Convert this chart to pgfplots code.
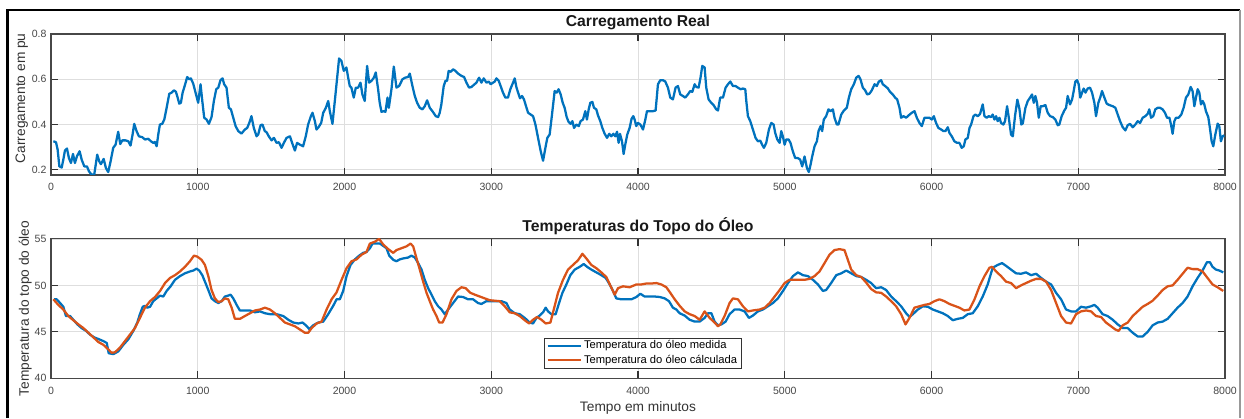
\documentclass[border=0pt]{standalone}
\usepackage{fontspec}
\setmainfont{Liberation Sans}
\usepackage{pgfplots}
\usepackage{pgfplotstable}
\pgfplotsset{compat=1.18}

\definecolor{mblue}{rgb}{0,0.447,0.741}
\definecolor{morange}{rgb}{0.85,0.325,0.098}

% Carregamento (pu) versus tempo (min)
\pgfplotstableread[row sep=\\]{
t v\\
16 0.326\\ 34 0.322\\ 45 0.29\\ 57 0.215\\ 73 0.21\\ 84 0.245\\ 95 0.285\\ 109 0.294\\ 122 0.252\\ 136 0.23\\
150 0.27\\ 163 0.23\\ 177 0.26\\ 195 0.282\\ 209 0.245\\ 227 0.215\\ 245 0.215\\ 259 0.193\\ 277 0.178\\ 295 0.18\\
315 0.267\\ 329 0.237\\ 340 0.225\\ 359 0.248\\ 374 0.208\\ 390 0.19\\ 406 0.237\\ 424 0.297\\ 440 0.311\\ 458 0.368\\
472 0.314\\ 486 0.33\\ 508 0.33\\ 527 0.326\\ 542 0.307\\ 556 0.356\\ 567 0.403\\ 583 0.371\\ 599 0.348\\ 622 0.344\\
640 0.334\\ 663 0.337\\ 681 0.326\\ 697 0.319\\ 708 0.323\\ 720 0.304\\ 731 0.356\\ 742 0.4\\ 758 0.403\\ 772 0.422\\
788 0.474\\ 806 0.536\\ 822 0.541\\ 838 0.551\\ 851 0.545\\ 863 0.519\\ 874 0.492\\ 885 0.496\\ 897 0.541\\ 913 0.575\\
928 0.61\\ 942 0.6\\ 953 0.604\\ 969 0.581\\ 985 0.541\\ 1003 0.496\\ 1019 0.578\\ 1031 0.504\\ 1044 0.43\\ 1060 0.422\\
1076 0.403\\ 1094 0.433\\ 1110 0.504\\ 1126 0.556\\ 1140 0.563\\ 1155 0.596\\ 1169 0.604\\ 1180 0.578\\ 1196 0.563\\ 1212 0.474\\
1226 0.467\\ 1242 0.43\\ 1258 0.393\\ 1276 0.371\\ 1298 0.36\\ 1321 0.378\\ 1337 0.385\\ 1351 0.407\\ 1366 0.437\\ 1382 0.385\\
1401 0.348\\ 1412 0.356\\ 1428 0.397\\ 1441 0.4\\ 1457 0.371\\ 1469 0.366\\ 1484 0.348\\ 1503 0.33\\ 1519 0.341\\ 1537 0.319\\
1553 0.322\\ 1571 0.297\\ 1587 0.319\\ 1605 0.341\\ 1628 0.348\\ 1643 0.319\\ 1662 0.285\\ 1677 0.319\\ 1696 0.311\\ 1718 0.304\\
1736 0.348\\ 1752 0.4\\ 1771 0.437\\ 1782 0.452\\ 1798 0.415\\ 1809 0.378\\ 1823 0.388\\ 1841 0.407\\ 1855 0.452\\ 1873 0.474\\
1889 0.504\\ 1900 0.459\\ 1918 0.403\\ 1934 0.504\\ 1950 0.607\\ 1963 0.692\\ 1979 0.681\\ 1995 0.637\\ 2013 0.652\\ 2025 0.607\\
2036 0.57\\ 2047 0.563\\ 2063 0.519\\ 2077 0.563\\ 2093 0.563\\ 2109 0.585\\ 2122 0.533\\ 2138 0.504\\ 2154 0.659\\ 2168 0.585\\
2184 0.593\\ 2200 0.607\\ 2213 0.63\\ 2229 0.556\\ 2240 0.496\\ 2252 0.456\\ 2268 0.459\\ 2279 0.456\\ 2293 0.519\\ 2302 0.474\\
2320 0.556\\ 2336 0.656\\ 2354 0.563\\ 2372 0.57\\ 2395 0.6\\ 2413 0.607\\ 2433 0.61\\ 2445 0.625\\ 2463 0.57\\ 2479 0.526\\
2495 0.496\\ 2513 0.474\\ 2531 0.467\\ 2547 0.481\\ 2563 0.507\\ 2581 0.474\\ 2599 0.459\\ 2622 0.437\\ 2638 0.433\\ 2649 0.452\\
2660 0.489\\ 2676 0.57\\ 2688 0.593\\ 2699 0.593\\ 2710 0.637\\ 2724 0.633\\ 2740 0.644\\ 2756 0.637\\ 2774 0.625\\ 2797 0.615\\
2815 0.61\\ 2831 0.585\\ 2849 0.563\\ 2865 0.566\\ 2881 0.575\\ 2899 0.585\\ 2917 0.607\\ 2933 0.585\\ 2949 0.604\\ 2967 0.585\\
2983 0.59\\ 2996 0.578\\ 3012 0.585\\ 3024 0.59\\ 3035 0.604\\ 3051 0.593\\ 3064 0.57\\ 3080 0.541\\ 3096 0.519\\ 3114 0.519\\
3130 0.556\\ 3144 0.578\\ 3160 0.604\\ 3171 0.566\\ 3183 0.541\\ 3196 0.516\\ 3210 0.526\\ 3223 0.511\\ 3237 0.481\\ 3251 0.452\\
3269 0.444\\ 3285 0.437\\ 3301 0.4\\ 3319 0.341\\ 3337 0.282\\ 3353 0.24\\ 3369 0.297\\ 3382 0.341\\ 3398 0.356\\ 3414 0.444\\
3432 0.548\\ 3446 0.541\\ 3459 0.556\\ 3473 0.533\\ 3487 0.496\\ 3500 0.474\\ 3514 0.433\\ 3527 0.412\\ 3541 0.403\\ 3553 0.415\\
3564 0.385\\ 3580 0.4\\ 3596 0.393\\ 3609 0.415\\ 3625 0.422\\ 3641 0.459\\ 3652 0.422\\ 3664 0.467\\ 3675 0.496\\ 3689 0.5\\
3700 0.474\\ 3716 0.467\\ 3727 0.441\\ 3743 0.415\\ 3757 0.385\\ 3773 0.359\\ 3789 0.341\\ 3804 0.359\\ 3818 0.348\\ 3832 0.359\\
3845 0.348\\ 3857 0.368\\ 3868 0.319\\ 3877 0.359\\ 3891 0.326\\ 3902 0.27\\ 3913 0.311\\ 3927 0.356\\ 3943 0.385\\ 3956 0.425\\
3968 0.437\\ 3977 0.422\\ 3988 0.393\\ 4000 0.407\\ 4016 0.4\\ 4034 0.378\\ 4050 0.422\\ 4061 0.459\\ 4079 0.459\\ 4102 0.459\\
4120 0.462\\ 4136 0.578\\ 4152 0.596\\ 4170 0.596\\ 4186 0.59\\ 4204 0.563\\ 4220 0.519\\ 4238 0.511\\ 4256 0.563\\ 4272 0.57\\
4288 0.533\\ 4306 0.526\\ 4322 0.519\\ 4340 0.533\\ 4356 0.548\\ 4370 0.544\\ 4386 0.578\\ 4397 0.566\\ 4413 0.563\\ 4426 0.607\\
4438 0.659\\ 4454 0.652\\ 4465 0.563\\ 4481 0.511\\ 4499 0.496\\ 4515 0.486\\ 4533 0.467\\ 4545 0.462\\ 4560 0.519\\ 4579 0.519\\
4597 0.563\\ 4613 0.578\\ 4629 0.59\\ 4647 0.57\\ 4665 0.57\\ 4681 0.563\\ 4699 0.556\\ 4715 0.559\\ 4731 0.556\\ 4738 0.504\\
4749 0.437\\ 4765 0.415\\ 4783 0.378\\ 4801 0.341\\ 4817 0.326\\ 4833 0.329\\ 4846 0.311\\ 4858 0.297\\ 4874 0.319\\ 4892 0.378\\
4908 0.407\\ 4924 0.4\\ 4935 0.363\\ 4949 0.334\\ 4965 0.319\\ 4976 0.371\\ 4987 0.348\\ 4999 0.311\\ 5010 0.334\\ 5026 0.334\\
5039 0.319\\ 5055 0.282\\ 5071 0.252\\ 5089 0.252\\ 5105 0.245\\ 5119 0.215\\ 5135 0.259\\ 5151 0.208\\ 5164 0.19\\ 5176 0.223\\
5187 0.259\\ 5203 0.304\\ 5219 0.326\\ 5230 0.371\\ 5244 0.393\\ 5255 0.371\\ 5266 0.422\\ 5282 0.437\\ 5298 0.467\\ 5312 0.459\\
5328 0.467\\ 5339 0.43\\ 5355 0.4\\ 5366 0.4\\ 5385 0.444\\ 5403 0.462\\ 5423 0.474\\ 5437 0.519\\ 5453 0.556\\ 5471 0.578\\
5487 0.607\\ 5503 0.615\\ 5516 0.6\\ 5532 0.563\\ 5548 0.551\\ 5562 0.533\\ 5577 0.536\\ 5593 0.551\\ 5612 0.578\\ 5627 0.57\\
5641 0.59\\ 5657 0.596\\ 5668 0.578\\ 5684 0.57\\ 5702 0.56\\ 5718 0.544\\ 5736 0.533\\ 5752 0.519\\ 5766 0.511\\ 5782 0.474\\
5793 0.43\\ 5809 0.437\\ 5827 0.43\\ 5845 0.441\\ 5866 0.452\\ 5884 0.459\\ 5900 0.43\\ 5918 0.407\\ 5934 0.393\\ 5952 0.43\\
5970 0.43\\ 5986 0.43\\ 6002 0.422\\ 6016 0.437\\ 6031 0.407\\ 6047 0.385\\ 6066 0.378\\ 6081 0.371\\ 6095 0.371\\ 6111 0.388\\
6122 0.363\\ 6138 0.348\\ 6156 0.326\\ 6174 0.319\\ 6190 0.319\\ 6206 0.297\\ 6220 0.304\\ 6231 0.334\\ 6247 0.341\\ 6259 0.385\\
6270 0.4\\ 6286 0.437\\ 6299 0.444\\ 6315 0.437\\ 6331 0.447\\ 6349 0.489\\ 6361 0.437\\ 6376 0.43\\ 6390 0.437\\ 6406 0.433\\
6417 0.444\\ 6429 0.422\\ 6440 0.437\\ 6451 0.415\\ 6463 0.43\\ 6474 0.407\\ 6490 0.4\\ 6501 0.415\\ 6515 0.481\\ 6526 0.433\\
6542 0.356\\ 6554 0.348\\ 6569 0.437\\ 6585 0.51\\ 6599 0.47\\ 6612 0.4\\ 6622 0.405\\ 6640 0.474\\ 6656 0.504\\ 6672 0.519\\
6685 0.533\\ 6697 0.496\\ 6708 0.526\\ 6719 0.496\\ 6731 0.43\\ 6744 0.481\\ 6758 0.481\\ 6776 0.486\\ 6792 0.452\\ 6808 0.437\\
6826 0.433\\ 6844 0.422\\ 6860 0.397\\ 6871 0.4\\ 6887 0.437\\ 6905 0.462\\ 6917 0.474\\ 6928 0.526\\ 6944 0.489\\ 6958 0.511\\
6969 0.548\\ 6980 0.59\\ 6992 0.596\\ 7003 0.578\\ 7014 0.519\\ 7026 0.541\\ 7037 0.559\\ 7049 0.541\\ 7064 0.559\\ 7080 0.563\\
7094 0.541\\ 7110 0.496\\ 7121 0.437\\ 7137 0.496\\ 7151 0.522\\ 7162 0.548\\ 7178 0.519\\ 7194 0.492\\ 7212 0.486\\ 7235 0.481\\
7253 0.474\\ 7269 0.444\\ 7285 0.415\\ 7303 0.388\\ 7321 0.374\\ 7337 0.397\\ 7353 0.403\\ 7371 0.388\\ 7389 0.4\\ 7405 0.415\\
7421 0.407\\ 7439 0.43\\ 7457 0.437\\ 7473 0.447\\ 7484 0.467\\ 7496 0.43\\ 7511 0.437\\ 7525 0.467\\ 7541 0.474\\ 7557 0.474\\
7575 0.467\\ 7591 0.452\\ 7605 0.43\\ 7621 0.43\\ 7632 0.4\\ 7643 0.359\\ 7655 0.415\\ 7666 0.43\\ 7684 0.43\\ 7702 0.444\\
7718 0.474\\ 7734 0.519\\ 7750 0.533\\ 7766 0.566\\ 7779 0.548\\ 7791 0.481\\ 7802 0.519\\ 7814 0.556\\ 7825 0.541\\ 7836 0.489\\
7848 0.504\\ 7859 0.489\\ 7870 0.459\\ 7886 0.433\\ 7897 0.385\\ 7909 0.326\\ 7920 0.304\\ 7934 0.356\\ 7950 0.404\\ 7961 0.393\\
7972 0.326\\ 7984 0.348\\ 7995 0.352\\
}\carregamento

% Temperatura do topo do óleo medida (graus C)
\pgfplotstableread[row sep=\\]{
t T\\
21 48.5\\ 39 48.5\\ 62 48.1\\ 84 47.7\\ 102 46.7\\ 130 46.7\\ 152 46.3\\ 180 45.8\\ 209 45.4\\ 239 45.1\\
266 44.7\\ 295 44.4\\ 327 44.2\\ 357 44.0\\ 380 43.8\\ 393 42.7\\ 425 42.6\\ 459 42.9\\ 493 43.6\\ 527 44.2\\
561 45.1\\ 588 46.0\\ 606 46.9\\ 625 47.7\\ 640 47.8\\ 656 47.6\\ 675 47.7\\ 697 48.3\\ 720 48.6\\ 743 48.9\\
765 48.8\\ 788 49.4\\ 815 49.9\\ 845 50.6\\ 879 51.0\\ 913 51.3\\ 947 51.5\\ 970 51.6\\ 992 51.8\\ 1010 51.6\\
1031 51.1\\ 1049 50.4\\ 1072 49.5\\ 1094 48.6\\ 1117 48.3\\ 1140 48.1\\ 1163 48.3\\ 1185 48.8\\ 1208 48.9\\ 1224 49.0\\
1242 48.6\\ 1265 47.9\\ 1287 47.3\\ 1321 47.3\\ 1356 47.3\\ 1390 47.1\\ 1424 47.2\\ 1458 47.0\\ 1492 46.9\\ 1537 46.9\\
1583 46.7\\ 1617 46.3\\ 1651 46.0\\ 1685 45.9\\ 1714 46.0\\ 1737 45.7\\ 1760 45.3\\ 1787 45.7\\ 1821 46.0\\ 1855 46.1\\
1889 46.9\\ 1923 47.8\\ 1946 48.5\\ 1968 48.5\\ 1991 49.4\\ 2014 51.0\\ 2041 52.2\\ 2071 52.8\\ 2100 53.2\\ 2127 53.5\\
2150 53.6\\ 2173 54.0\\ 2191 54.5\\ 2218 54.5\\ 2241 54.5\\ 2264 54.25\\ 2286 54.0\\ 2305 53.2\\ 2332 52.75\\ 2354 52.6\\
2377 52.8\\ 2400 52.9\\ 2434 53.0\\ 2456 53.2\\ 2479 53.0\\ 2502 52.4\\ 2525 51.7\\ 2547 50.6\\ 2570 49.7\\ 2593 49.0\\
2615 48.3\\ 2638 47.75\\ 2661 47.4\\ 2683 46.9\\ 2706 47.4\\ 2740 48.1\\ 2774 48.8\\ 2808 48.75\\ 2842 48.5\\ 2876 48.5\\
2910 48.1\\ 2933 48.0\\ 2967 48.3\\ 3001 48.3\\ 3035 48.3\\ 3069 48.3\\ 3103 48.1\\ 3126 47.4\\ 3160 47.0\\ 3194 46.9\\
3228 46.5\\ 3262 46.0\\ 3285 45.9\\ 3308 46.5\\ 3330 46.75\\ 3353 47.1\\ 3371 47.6\\ 3387 47.2\\ 3410 46.9\\ 3439 46.9\\
3462 48.1\\ 3485 49.2\\ 3512 50.1\\ 3539 51.1\\ 3569 51.7\\ 3603 52.0\\ 3630 52.3\\ 3653 52.0\\ 3682 51.7\\ 3716 51.4\\
3750 51.1\\ 3780 50.8\\ 3807 50.1\\ 3830 49.4\\ 3852 48.6\\ 3886 48.5\\ 3921 48.5\\ 3955 48.5\\ 3989 48.75\\ 4016 49.1\\
4045 48.8\\ 4080 48.8\\ 4114 48.8\\ 4148 48.75\\ 4182 48.6\\ 4211 48.3\\ 4238 47.6\\ 4261 47.4\\ 4284 47.0\\ 4318 46.75\\
4352 46.3\\ 4386 46.1\\ 4420 46.1\\ 4454 46.5\\ 4477 47.0\\ 4500 47.0\\ 4522 46.1\\ 4545 45.7\\ 4568 45.8\\ 4597 46.1\\
4624 46.9\\ 4658 47.4\\ 4692 47.4\\ 4726 47.2\\ 4756 46.5\\ 4783 46.75\\ 4817 47.2\\ 4851 47.4\\ 4885 47.75\\ 4919 48.1\\
4953 48.6\\ 4988 49.4\\ 5022 50.25\\ 5056 51.0\\ 5090 51.4\\ 5124 51.1\\ 5158 51.0\\ 5192 50.6\\ 5226 50.1\\ 5260 49.4\\
5282 49.5\\ 5316 50.25\\ 5351 51.1\\ 5385 51.3\\ 5419 51.6\\ 5453 51.3\\ 5487 51.0\\ 5521 50.9\\ 5555 50.6\\ 5589 50.25\\
5623 49.7\\ 5657 49.8\\ 5691 49.5\\ 5725 48.8\\ 5759 48.3\\ 5793 47.75\\ 5827 47.0\\ 5850 46.6\\ 5873 46.9\\ 5907 47.4\\
5941 47.75\\ 5975 47.7\\ 6009 47.4\\ 6043 47.2\\ 6077 47.0\\ 6111 46.7\\ 6145 46.25\\ 6179 46.4\\ 6213 46.5\\ 6247 46.9\\
6281 47.0\\ 6315 47.75\\ 6349 48.8\\ 6383 50.1\\ 6417 51.9\\ 6451 52.2\\ 6481 52.4\\ 6508 52.1\\ 6542 51.7\\ 6576 51.3\\
6610 51.25\\ 6644 51.4\\ 6678 51.1\\ 6713 51.25\\ 6747 50.8\\ 6781 50.4\\ 6815 50.1\\ 6849 49.2\\ 6883 48.5\\ 6917 47.4\\
6951 47.2\\ 6985 47.2\\ 7019 47.7\\ 7053 47.6\\ 7087 47.75\\ 7110 47.9\\ 7132 47.6\\ 7166 46.9\\ 7200 46.7\\ 7235 46.3\\
7269 45.8\\ 7303 45.4\\ 7337 45.4\\ 7371 44.9\\ 7405 44.5\\ 7439 44.5\\ 7473 45.0\\ 7507 45.7\\ 7541 46.0\\ 7575 46.1\\
7609 46.4\\ 7643 47.0\\ 7677 47.6\\ 7711 48.1\\ 7745 48.8\\ 7779 49.9\\ 7813 50.8\\ 7847 51.6\\ 7877 52.5\\ 7897 52.5\\
7915 52.0\\ 7938 51.7\\ 7961 51.6\\ 7988 51.4\\
}\medida

% Temperatura do topo do óleo calculada (graus C)
\pgfplotstableread[row sep=\\]{
t T\\
16 48.5\\ 50 47.9\\ 84 47.4\\ 118 46.7\\ 152 46.25\\ 187 45.8\\ 221 45.4\\ 255 44.9\\ 289 44.4\\ 323 43.9\\
357 43.6\\ 391 43.1\\ 413 42.75\\ 436 42.8\\ 470 43.3\\ 504 44.0\\ 538 44.7\\ 572 45.4\\ 606 46.5\\ 640 47.6\\
675 48.3\\ 709 48.75\\ 743 49.4\\ 777 50.25\\ 811 50.8\\ 845 51.1\\ 879 51.5\\ 913 52.0\\ 947 52.6\\ 974 53.2\\
997 53.1\\ 1026 52.75\\ 1049 52.2\\ 1072 51.0\\ 1094 49.5\\ 1117 48.6\\ 1140 48.2\\ 1163 48.3\\ 1185 48.6\\ 1208 48.5\\
1231 47.6\\ 1253 46.4\\ 1288 46.4\\ 1321 46.7\\ 1356 47.0\\ 1390 47.3\\ 1424 47.4\\ 1458 47.6\\ 1492 47.4\\ 1526 47.0\\
1560 46.5\\ 1594 46.0\\ 1628 45.8\\ 1662 45.6\\ 1696 45.25\\ 1730 44.9\\ 1753 44.9\\ 1776 45.4\\ 1810 45.9\\ 1844 46.1\\
1878 47.4\\ 1912 48.5\\ 1946 49.25\\ 1980 50.6\\ 2014 51.85\\ 2048 52.6\\ 2082 52.8\\ 2116 53.3\\ 2150 53.6\\ 2173 54.5\\
2207 54.7\\ 2236 55.0\\ 2264 54.4\\ 2298 53.9\\ 2332 53.5\\ 2354 53.8\\ 2388 54.0\\ 2422 54.2\\ 2450 54.5\\ 2468 54.2\\
2491 52.9\\ 2513 51.7\\ 2536 50.4\\ 2559 49.2\\ 2581 48.3\\ 2604 47.4\\ 2627 46.7\\ 2645 46.0\\ 2668 46.0\\ 2695 46.9\\
2729 48.5\\ 2763 49.4\\ 2797 49.8\\ 2826 49.7\\ 2858 49.2\\ 2888 49.0\\ 2922 48.8\\ 2956 48.6\\ 2990 48.4\\ 3024 48.35\\
3058 48.3\\ 3092 47.75\\ 3126 47.1\\ 3160 47.0\\ 3194 46.7\\ 3228 46.25\\ 3258 45.9\\ 3285 46.3\\ 3312 46.6\\ 3342 46.3\\
3371 45.9\\ 3403 46.0\\ 3426 47.4\\ 3455 49.2\\ 3489 50.6\\ 3523 51.7\\ 3557 52.2\\ 3591 52.7\\ 3621 53.4\\ 3648 52.9\\
3682 52.2\\ 3716 51.85\\ 3750 51.4\\ 3784 50.9\\ 3814 49.9\\ 3841 49.0\\ 3864 49.7\\ 3898 49.9\\ 3943 49.8\\ 3989 50.1\\
4023 50.1\\ 4057 50.2\\ 4091 50.2\\ 4125 50.25\\ 4159 50.1\\ 4193 49.8\\ 4220 49.2\\ 4250 48.5\\ 4284 47.8\\ 4318 47.2\\
4352 46.9\\ 4386 46.7\\ 4420 46.3\\ 4454 47.2\\ 4488 46.5\\ 4522 46.0\\ 4545 45.6\\ 4561 45.8\\ 4590 46.7\\ 4624 48.1\\
4647 48.6\\ 4681 48.5\\ 4715 47.75\\ 4749 47.2\\ 4783 47.3\\ 4829 47.4\\ 4863 47.6\\ 4897 48.1\\ 4931 48.8\\ 4965 49.5\\
4999 50.25\\ 5033 50.6\\ 5067 50.6\\ 5101 50.6\\ 5135 50.6\\ 5169 50.7\\ 5203 51.0\\ 5237 51.5\\ 5271 52.4\\ 5305 53.3\\
5339 53.8\\ 5373 53.9\\ 5407 53.8\\ 5430 52.75\\ 5453 51.7\\ 5487 51.1\\ 5521 50.9\\ 5555 50.3\\ 5589 49.6\\ 5623 49.25\\
5657 49.2\\ 5691 48.8\\ 5725 48.3\\ 5759 47.75\\ 5793 46.9\\ 5823 45.8\\ 5850 46.5\\ 5884 47.6\\ 5918 47.75\\ 5952 47.9\\
5986 48.0\\ 6020 48.3\\ 6054 48.5\\ 6088 48.3\\ 6122 48.0\\ 6156 47.8\\ 6190 47.6\\ 6224 47.3\\ 6258 47.4\\ 6293 48.5\\
6327 49.9\\ 6361 51.0\\ 6395 51.9\\ 6413 52.0\\ 6440 51.5\\ 6474 51.0\\ 6508 50.4\\ 6542 50.25\\ 6576 49.7\\ 6610 50.0\\
6644 50.25\\ 6678 50.5\\ 6713 50.7\\ 6747 50.7\\ 6781 50.4\\ 6815 49.5\\ 6849 48.1\\ 6883 46.7\\ 6917 46.0\\ 6951 45.9\\
6985 46.9\\ 7019 47.2\\ 7053 47.3\\ 7087 47.2\\ 7121 46.7\\ 7155 46.6\\ 7189 46.0\\ 7223 45.6\\ 7253 45.25\\ 7275 45.1\\
7303 45.7\\ 7337 46.0\\ 7371 46.7\\ 7405 47.2\\ 7439 47.7\\ 7473 48.0\\ 7507 48.35\\ 7541 48.9\\ 7575 49.5\\ 7609 49.9\\
7643 50.0\\ 7677 50.6\\ 7711 51.25\\ 7745 51.9\\ 7779 51.75\\ 7813 51.75\\ 7847 51.5\\ 7881 50.8\\ 7915 50.1\\ 7949 49.8\\
7988 49.4\\
}\calculada

\pgfplotsset{
  painel/.style={
    scale only axis, width=880.5pt,
    xmin=0, xmax=8000,
    xtick={0,1000,...,8000},
    scaled x ticks=false, scaled y ticks=false,
    /pgf/number format/1000 sep={},
    /pgf/number format/assume math mode=true,
    grid=major,
    major grid style={black!13, line width=0.5pt},
    axis line style={black!72, line width=0.8pt},
    tick align=inside,
    major tick length=5.2pt,
    every tick/.style={black!80, line width=0.8pt},
    tick label style={font=\fontsize{7.9}{9}\selectfont, text=black!72, inner sep=0pt},
    xticklabel style={anchor=center, yshift=-9.2pt},
    yticklabel style={anchor=east, xshift=-3.2pt},
    title style={font=\bfseries\fontsize{11.8}{14}\selectfont, text=black!90, anchor=center, at={(axis description cs:0.5,1)}},
    label style={font=\fontsize{10.3}{12}\selectfont, text=black!80},
  }
}

\begin{document}
\begin{tikzpicture}
\useasboundingbox (0,0) rectangle (933pt,313.5pt);

% painel superior: carregamento
\begin{axis}[painel,
  at={(38.25pt,182.25pt)}, anchor=south west,
  height=105.75pt,
  ymin=0.177, ymax=0.8,
  ytick={0.2,0.4,0.6,0.8},
  yticklabel style={/pgf/number format/.cd, fixed, precision=1},
  title={Carregamento Real},
  title style={yshift=2.3pt},
  ylabel={Carregamento em pu},
  ylabel style={at={(axis description cs:-0.025,0.544)}, anchor=center},
]
\addplot[mblue, line width=1.7pt, line join=round] table[x=t, y=v] {\carregamento};
\end{axis}

% painel inferior: temperaturas
\begin{axis}[painel,
  at={(38.25pt,29.8pt)}, anchor=south west,
  height=104.5pt,
  ymin=40, ymax=55,
  ytick={40,45,50,55},
  title={Temperaturas do Topo do Óleo},
  title style={yshift=3.6pt},
  ylabel={Temperatura do topo do óleo},
  ylabel style={at={(axis description cs:-0.022,0.5)}, anchor=center},
  xlabel={Tempo em minutos},
  xlabel style={at={(axis description cs:0.5,0)}, anchor=center, yshift=-21.9pt},
  legend style={at={(0.42,0.072)}, anchor=south west, draw=black!80, line width=0.5pt,
    font=\fontsize{8.4}{10}\selectfont, fill=white, inner xsep=1.5pt, inner ysep=0.5pt,
    nodes={inner sep=1.5pt}, row sep=0pt},
  legend cell align=left,
  legend image code/.code={\draw[#1] (0pt,0pt) -- (25pt,0pt);},
]
\addplot[mblue, line width=1.7pt, line join=round] table[x=t, y=T] {\medida};
\addlegendentry{Temperatura do óleo medida}
\addplot[morange, line width=1.7pt, line join=round] table[x=t, y=T] {\calculada};
\addlegendentry{Temperatura do óleo cálculada}
\end{axis}

% moldura da janela
\draw[black, line width=1.9pt] (5.5pt,0pt) -- (5.5pt,306pt) -- (930pt,306pt);
\draw[black!40, line width=1pt] (930pt,306pt) -- (930pt,0pt);
\end{tikzpicture}
\end{document}
